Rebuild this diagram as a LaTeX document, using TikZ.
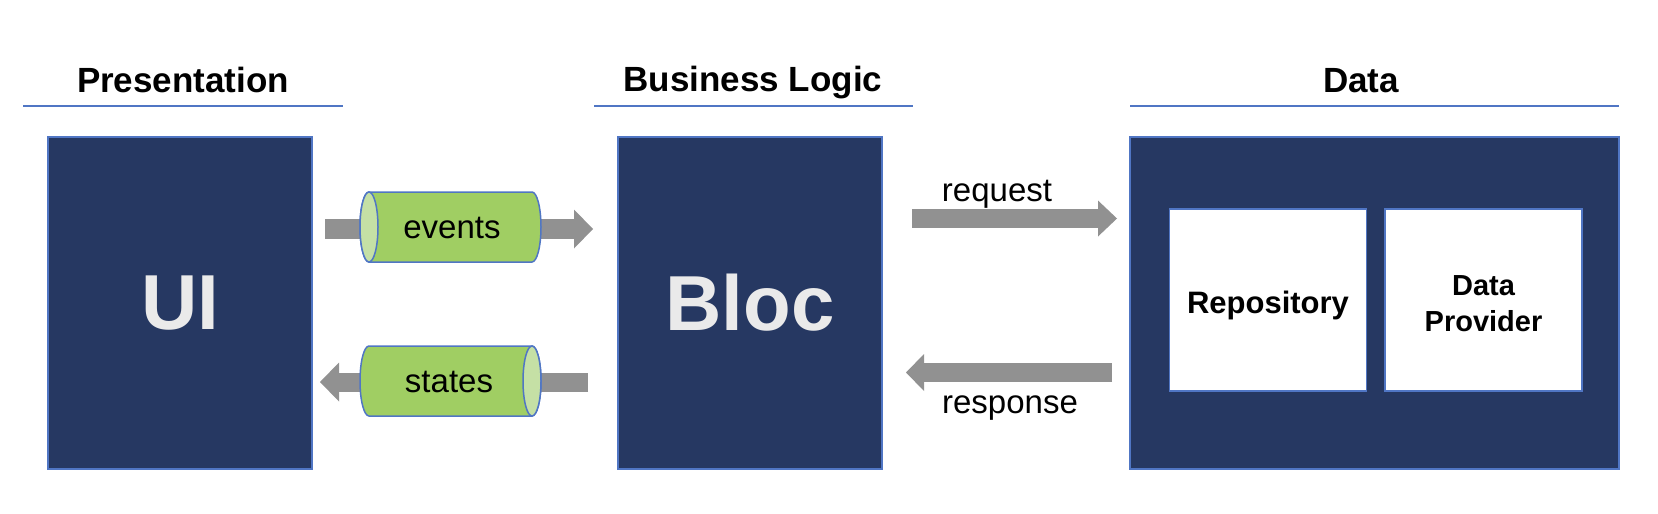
\documentclass[tikz,border=0pt]{standalone}
\usepackage{fontspec}
\setmainfont{Liberation Sans}
\usetikzlibrary{arrows.meta}
\definecolor{navy}{RGB}{38,56,98}
\definecolor{edgeblue}{RGB}{80,118,196}
\definecolor{cylgreen}{RGB}{160,206,99}
\definecolor{cylface}{RGB}{197,224,165}
\definecolor{arrowgray}{RGB}{145,145,145}
\definecolor{lighttext}{RGB}{234,234,234}
\tikzset{
  bigbox/.style={draw=edgeblue, line width=1.5pt, fill=navy, minimum width=264pt, minimum height=332pt, inner sep=0pt, text=lighttext, font=\bfseries\fontsize{78}{80}\selectfont},
  innerbox/.style={draw=edgeblue, line width=1.5pt, fill=white, minimum width=197pt, minimum height=182pt, inner sep=0pt, align=center},
  header/.style={anchor=base, font=\bfseries\fontsize{35}{40}\selectfont},
  headline/.style={draw=edgeblue, line width=2pt},
  fatarrow/.style={draw=arrowgray, line width=20pt, -{Triangle[length=19pt,width=39pt,line width=0pt]}},
  cylbody/.style={fill=cylgreen, draw=edgeblue, line width=1.5pt},
  cylend/.style={fill=cylface, draw=edgeblue, line width=1.5pt},
  lbl/.style={anchor=base, font=\fontsize{33}{36}\selectfont},
}
\begin{document}
\begin{tikzpicture}[x=1pt, y=-1pt]
\useasboundingbox (0,0) rectangle (1658,514);
% headers
\node[header] (hp) at (183,92) {Presentation};
\node[header] (hb) at (753,91) {Business Logic};
\node[header] (hd) at (1361,92) {Data};
\draw[headline] (23,106) -- (343,106);
\draw[headline] (594,106) -- (913,106);
\draw[headline] (1130,106) -- (1619,106);
% main boxes
\node[bigbox] (ui) at (180,303) {UI};
\node[bigbox] (bloc) at (750,303) {Bloc};
\node[bigbox, minimum width=489pt] (data) at (1374.5,303) {};
\node[innerbox] (repo) at (1268,300) {};
\node[innerbox] (prov) at (1483.5,300) {};
\node[font=\bfseries\fontsize{31}{36}\selectfont, anchor=base] (repot) at (1268,313) {Repository};
\node[font=\bfseries\fontsize{29}{36}\selectfont, align=center, anchor=base] (provt) at (1483.5,331) {Data\\Provider};
% arrow end points
\coordinate (evS) at (325,229);
\coordinate (evE) at (593,229);
\coordinate (stS) at (588,382);
\coordinate (stE) at (320,382);
\coordinate (rqS) at (912,218.5);
\coordinate (rqE) at (1117,218.5);
\coordinate (rsS) at (1112,372.5);
\coordinate (rsE) at (906,372.5);
\draw[fatarrow] (evS) -- (evE);
\draw[fatarrow, line width=19pt] (stS) -- (stE);
\draw[fatarrow, line width=19pt, -{Triangle[length=19pt,width=36pt,line width=0pt]}] (rqS) -- (rqE);
\draw[fatarrow, line width=19pt, -{Triangle[length=18pt,width=37pt,line width=0pt]}] (rsS) -- (rsE);
% events cylinder (face on the left)
\path[cylbody] (369,192) -- (532,192) arc[start angle=90, end angle=-90, x radius=9pt, y radius=35pt]
  -- (369,262) arc[start angle=270, end angle=90, x radius=9pt, y radius=35pt] -- cycle;
\path[cylend] (369,227) ellipse[x radius=9pt, y radius=35pt];
\node[lbl] (ev) at (452,238) {events};
% states cylinder (face on the right)
\path[cylbody] (532,346) -- (369,346) arc[start angle=90, end angle=270, x radius=9pt, y radius=35pt]
  -- (532,416) arc[start angle=-90, end angle=90, x radius=9pt, y radius=35pt] -- cycle;
\path[cylend] (532,381) ellipse[x radius=9pt, y radius=35pt];
\node[lbl] (st) at (449,392) {states};
% labels of request / response
\node[lbl] (rq) at (997,201) {request};
\node[lbl] (rs) at (1010,413) {response};
\end{tikzpicture}
\end{document}
